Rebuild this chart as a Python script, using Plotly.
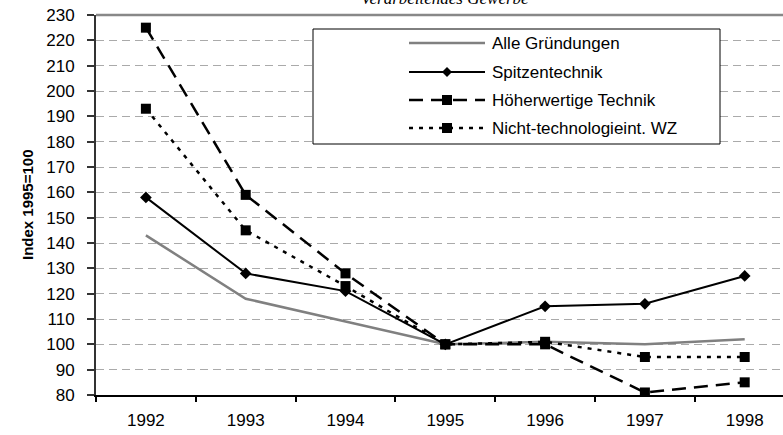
import plotly.graph_objects as go

years = ["1992", "1993", "1994", "1995", "1996", "1997", "1998"]
alle = [143, 118, 109, 100, 101, 100, 102]
spitzen = [158, 128, 121, 100, 115, 116, 127]
hoeher = [225, 159, 128, 100, 100, 81, 85]
nicht = [193, 145, 123, 100, 101, 95, 95]
names = ["Alle Gründungen", "Spitzentechnik", "Höherwertige Technik", "Nicht-technologieint. WZ"]
y_ticks = list(range(80, 231, 10))

W, H = 783, 435
L, T, B = 96, 15, 395
R = 783
FONT = "Liberation Sans, Arial, sans-serif"
FS = 17

def px(x):
    return (x - L) / (R - L)

def py(y):
    return (B - y) / (B - T)

fig = go.Figure()
fig.add_trace(go.Scatter(x=years, y=alle, mode="lines", name=names[0],
                         line=dict(color="#808080", width=2.5)))
fig.add_trace(go.Scatter(x=years, y=spitzen, mode="lines+markers", name=names[1],
                         line=dict(color="#000000", width=2),
                         marker=dict(symbol="diamond", size=9, color="#000000")))
fig.add_trace(go.Scatter(x=years, y=hoeher, mode="lines+markers", name=names[2],
                         line=dict(color="#000000", width=2.5, dash="14px,8px"),
                         marker=dict(symbol="square", size=10, color="#000000")))
fig.add_trace(go.Scatter(x=years, y=nicht, mode="lines+markers", name=names[3],
                         line=dict(color="#000000", width=2.5, dash="4px,6px"),
                         marker=dict(symbol="square", size=10, color="#000000")))

shapes = []
annotations = []
# top border
shapes.append(dict(type="line", xref="paper", yref="paper", x0=0, x1=1, y0=1, y1=1,
                   line=dict(color="#888888", width=2.5), layer="above"))
# manual legend
lx0, lx1, ly0, ly1 = 313, 720, 29, 144
shapes.append(dict(type="rect", xref="paper", yref="paper", x0=px(lx0), x1=px(lx1),
                   y0=py(ly1), y1=py(ly0), line=dict(color="#000000", width=1),
                   fillcolor="#ffffff", layer="above"))
rows = [43, 72, 100, 128]
styles = [("#808080", 2.5, "solid", None), ("#000000", 2, "solid", "diamond"),
          ("#000000", 2.5, "14px,8px", "square"), ("#000000", 2.5, "4px,6px", "square")]
sx0, sx1 = 409, 485
for (col, wd, dash, mk), ry, nm in zip(styles, rows, names):
    shapes.append(dict(type="line", xref="paper", yref="paper", x0=px(sx0), x1=px(sx1),
                       y0=py(ry), y1=py(ry), line=dict(color=col, width=wd, dash=dash),
                       layer="above"))
    cx = (sx0 + sx1) / 2
    if mk == "square":
        s = 5
        shapes.append(dict(type="rect", xref="paper", yref="paper", x0=px(cx - s), x1=px(cx + s),
                           y0=py(ry + s), y1=py(ry - s), line=dict(width=0),
                           fillcolor="#000000", layer="above"))
    elif mk == "diamond":
        s = 5
        path = "M {} {} L {} {} L {} {} L {} {} Z".format(
            px(cx - s), py(ry), px(cx), py(ry - s), px(cx + s), py(ry), px(cx), py(ry + s))
        shapes.append(dict(type="path", xref="paper", yref="paper", path=path,
                           line=dict(width=0), fillcolor="#000000", layer="above"))
    annotations.append(dict(xref="paper", yref="paper", x=px(490), y=py(ry), text=nm,
                            showarrow=False, xanchor="left", yanchor="middle",
                            font=dict(family=FONT, size=FS, color="#000000")))

annotations.append(dict(xref="paper", yref="paper", x=px(445), y=py(10), text="<i>Verarbeitendes Gewerbe</i>",
                        showarrow=False, xanchor="center", yanchor="bottom",
                        font=dict(family="Liberation Serif, Times New Roman, serif", size=17,
                                  color="#000000")))
annotations.append(dict(xref="paper", yref="paper", x=px(27), y=py(205), text="<b>Index 1995=100</b>",
                        showarrow=False, xanchor="center", yanchor="middle", textangle=-90,
                        font=dict(family=FONT, size=15, color="#000000")))

fig.update_layout(
    width=W, height=H,
    margin=dict(l=L, r=W - R, t=T, b=H - B, pad=0, autoexpand=False),
    paper_bgcolor="#ffffff", plot_bgcolor="#ffffff",
    showlegend=False,
    shapes=shapes, annotations=annotations,
    font=dict(family=FONT, size=FS, color="#000000"),
    xaxis=dict(type="category", categoryorder="array", categoryarray=years, automargin=False,
               range=[-0.5, 6.5 - (794.6 - R) / 99.8], tickson="boundaries",
               ticks="outside", ticklen=5, tickcolor="#000000", tickwidth=1.5,
               showline=True, linecolor="#000000", linewidth=1.5,
               showgrid=False, zeroline=False, ticklabelstandoff=9,
               tickfont=dict(family=FONT, size=FS, color="#000000")),
    yaxis=dict(range=[80, 230], tickvals=y_ticks, ticktext=[str(v) for v in y_ticks],
               automargin=False,
               ticks="outside", ticklen=7, tickcolor="#333333", tickwidth=1.5,
               showline=True, linecolor="#333333", linewidth=2,
               showgrid=True, gridcolor="#aaaaaa", gridwidth=1, griddash="8px,5px",
               zeroline=False, ticklabelstandoff=9,
               tickfont=dict(family=FONT, size=FS, color="#000000")),
)

fig.write_html("out.html", config={"displayModeBar": False},
               post_script="document.body.style.margin='0';document.body.style.padding='0';")
